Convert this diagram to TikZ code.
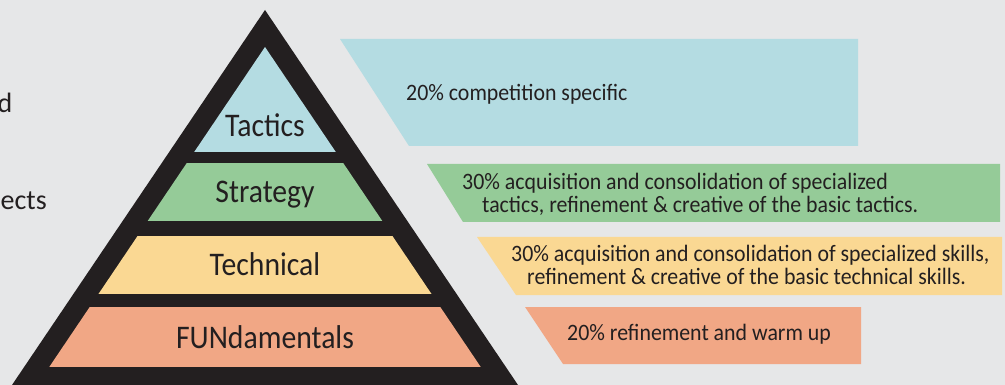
\documentclass[tikz,border=0pt]{standalone}
\usepackage{fontspec}
\setmainfont{Carlito}
\newfontfamily\pyrfont[FakeStretch=0.9]{Carlito}
\newfontfamily\notefont[FakeStretch=0.93]{Carlito}
\usepackage{xcolor}
\usetikzlibrary{positioning}
\definecolor{bggray}{HTML}{E6E7E8}
\definecolor{pyrblack}{HTML}{231F20}
\definecolor{tacblue}{HTML}{B4DCE2}
\definecolor{strgreen}{HTML}{95CB98}
\definecolor{tecyellow}{HTML}{FAD893}
\definecolor{funorange}{HTML}{F1A785}
\tikzset{%
	level/.style = {font=\pyrfont\fontsize{33}{33}\selectfont, text=pyrblack, inner sep=0pt, anchor=base}, % Pyramid layer
	note/.style  = {font=\notefont\fontsize{23.5}{23.5}\selectfont, text=pyrblack, inner sep=0pt, anchor=base west, align=left}, % Share
	side/.style  = {font=\fontsize{28}{28}\selectfont, text=pyrblack, inner sep=0pt, anchor=base east}, % Cut-off text
}

\begin{document}
\begin{tikzpicture}[x=1pt,y=-1pt]
	\useasboundingbox (0,0) rectangle (1005,385);
	\fill[bggray] (0,0) rectangle (1005,385);
	
	% pyramid
	\fill[pyrblack] (265,10) -- (518,385) -- (12,385) -- cycle;
	\begin{scope}
	\clip (265,47) -- (503,400) -- (27,400) -- cycle;
	\fill[tacblue] (0,0) rectangle (530,152);
	\fill[strgreen] (0,163) rectangle (530,221);
	\fill[tecyellow] (0,236) rectangle (530,294);
	\fill[funorange] (0,307) rectangle (530,367);
	\end{scope}
	\node[level] (tactics) at (265,137) {Tactics};
	\node[level] (strategy) at (265,203) {Strategy};
	\node[level] (technical) at (265,275) {Technical};
	\node[level] (fundamentals) at (265,348) {FUNdamentals};
	
	% shares (base = last line)
	\fill[tacblue] (340,39) -- (858,39) -- (858,146) -- (409,146) -- cycle;
	\fill[strgreen] (427,164) -- (1000,164) -- (1000,222) -- (463,222) -- cycle;
	\fill[tecyellow] (477,237) -- (1002,237) -- (1002,295) -- (516,295) -- cycle;
	\fill[funorange] (525,307) -- (861,307) -- (861,364) -- (563,364) -- cycle;
	\node[note] (tacticsnote) at (406,101) {20\% competition specific};
	\node[note] (strategynote) at (462,213) {30\% acquisition and consolidation of specialized\\\hspace*{20pt}tactics, refinement \& creative of the basic tactics.};
	\node[note] (technicalnote) at (511,284.5) {30\% acquisition and consolidation of specialized skills,\\\hspace*{16pt}refinement \& creative of the basic technical skills.};
	\node[note] (fundamentalsnote) at (567,340) {20\% refinement and warm up};
	
	\node[side] (sideand) at (12.5,113) {d};
	\node[side] (sideaspects) at (47,210) {ects};
\end{tikzpicture}
\end{document}
